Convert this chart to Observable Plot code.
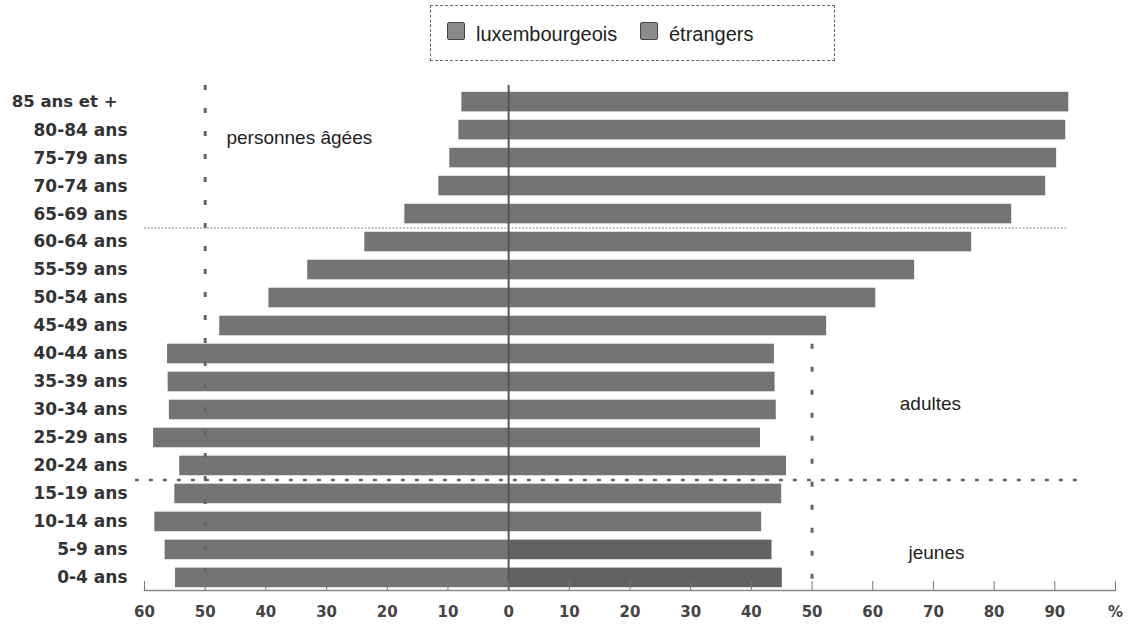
<!DOCTYPE html>
<html>
<head>
<meta charset="utf-8">
<script src="https://cdn.jsdelivr.net/npm/d3@7"></script>
<script src="https://cdn.jsdelivr.net/npm/@observablehq/plot@0.6"></script>
<style>
  body { margin: 0; background: #fff; }
  #wrap { position: relative; width: 1131px; height: 630px; }
  #legend { position: absolute; left: 430px; top: 5px; width: 405px; height: 56px; border: 1px dashed #666; box-sizing: border-box;
            font-family: "Liberation Sans", Arial, sans-serif; font-size: 20px; color: #222; }
  .sw { position: absolute; top: 16px; width: 18px; height: 18px; background: #8a8a8a; border: 1.5px solid #444; border-radius: 2px; box-sizing: border-box; }
  .lt { position: absolute; top: 17px; line-height: 22px; white-space: nowrap; }
  #chart { position: absolute; left: 0; top: 0; }
</style>
</head>
<body>
<div id="wrap">
  <div id="chart"></div>
  <div id="legend"></div>
</div>
<script>
// ---- data ----
const ages = ["85 ans et +", "80-84 ans", "75-79 ans", "70-74 ans", "65-69 ans", "60-64 ans", "55-59 ans", "50-54 ans", "45-49 ans",
              "40-44 ans", "35-39 ans", "30-34 ans", "25-29 ans", "20-24 ans", "15-19 ans", "10-14 ans", "5-9 ans", "0-4 ans"];
const luxembourgeois = [92.3, 91.8, 90.3, 88.5, 82.9, 76.3, 66.9, 60.5, 52.4, 43.8, 43.9, 44.1, 41.5, 45.8, 45.0, 41.7, 43.4, 45.1];
const etrangers      = [7.7, 8.2, 9.7, 11.5, 17.1, 23.7, 33.1, 39.5, 47.6, 56.2, 56.1, 55.9, 58.5, 54.2, 55.0, 58.3, 56.6, 54.9];
const seriesNames = ["luxembourgeois", "étrangers"];
const xTicks = [-60, -50, -40, -30, -20, -10, 0, 10, 20, 30, 40, 50, 60, 70, 80, 90, 100];
const groupNames = ["personnes âgées", "adultes", "jeunes"];

const rows = ages.map((age, i) => ({age, lux: luxembourgeois[i], etr: etrangers[i]}));
const barFill = d => (d.age === "0-4 ans" || d.age === "5-9 ans") ? "#626262" : "#747474";
const labelFont = {fontFamily: "Liberation Sans, Arial, sans-serif", fontSize: 19, fill: "#222"};

const plot = Plot.plot({
  width: 1131,
  height: 630,
  marginLeft: 144,
  marginRight: 16,
  marginTop: 89,
  marginBottom: 40,
  style: {background: "transparent"},
  x: {domain: [-60, 100]},
  y: {domain: ages, paddingInner: 0.3, paddingOuter: 0.1, round: false},
  marks: [
    Plot.frame({anchor: "bottom", stroke: "#888", strokeWidth: 1.5}),
    Plot.barX(rows, {y: "age", x1: d => -d.etr, x2: 0, fill: "#747474"}),
    Plot.barX(rows, {y: "age", x1: 0, x2: "lux", fill: barFill}),
    Plot.ruleX([0], {stroke: "#555", strokeWidth: 2, insetTop: -4}),
    Plot.ruleX([-50], {stroke: "#666", strokeWidth: 3, strokeDasharray: "5,18", insetTop: -4}),
    Plot.ruleX([50], {y1: () => "40-44 ans", y2: () => "0-4 ans", stroke: "#666", strokeWidth: 3, strokeDasharray: "5,18"}),
    Plot.ruleY(["65-69 ans"], {y: d => d, x1: -60, x2: 92, dy: 14, stroke: "#888", strokeWidth: 1, strokeDasharray: "2,1.5"}),
    Plot.ruleY(["20-24 ans"], {y: d => d, x1: -61.5, x2: 94.5, dy: 14, stroke: "#666", strokeWidth: 2.5, strokeDasharray: "4,10"}),
    Plot.text([groupNames[0]], {x: () => -46.5, y: () => "80-84 ans", text: d => d, textAnchor: "start", dy: 8, ...labelFont}),
    Plot.text([groupNames[1]], {x: () => 69.5, y: () => "30-34 ans", text: d => d, textAnchor: "middle", dy: -6, ...labelFont}),
    Plot.text([groupNames[2]], {x: () => 70.5, y: () => "5-9 ans", text: d => d, textAnchor: "middle", dy: 3, ...labelFont}),
    Plot.axisY({tickSize: 0, tickPadding: 17, fontSize: 17, fontWeight: "bold",
      fontFamily: "DejaVu Sans, sans-serif", fill: "#333", label: null}),
    Plot.axisX(xTicks, {tickSize: -9, text: null, stroke: "#777", label: null}),
    Plot.axisX(xTicks, {tickSize: 0, tickPadding: 16, label: null, fontSize: 15, fontWeight: "bold",
      fontFamily: "DejaVu Sans, sans-serif", fill: "#444",
      tickFormat: d => d === 100 ? "%" : String(Math.abs(d))})
  ]
});
document.getElementById("chart").appendChild(plot);

// the top age label sits a little further left in the original
d3.select(plot).selectAll("text").filter(function() { return this.textContent === ages[0]; })
  .attr("dx", -10).attr("font-size", 16.5);

// legend
const legend = document.getElementById("legend");
const swLeft = [16, 209];
const txtLeft = [45, 238];
seriesNames.forEach((name, i) => {
  const sw = document.createElement("div");
  sw.className = "sw"; sw.style.left = swLeft[i] + "px";
  legend.appendChild(sw);
  const t = document.createElement("div");
  t.className = "lt"; t.style.left = txtLeft[i] + "px"; t.textContent = name;
  legend.appendChild(t);
});
</script>
</body>
</html>
